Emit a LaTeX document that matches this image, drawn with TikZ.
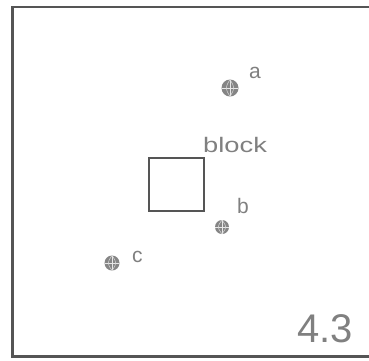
\documentclass[tikz,border=0pt]{standalone}
\usepackage{fontspec}
\setmainfont{Liberation Sans}
\definecolor{frm}{HTML}{555555}
\definecolor{txt}{HTML}{808080}
\definecolor{glb}{HTML}{858585}
\begin{document}
\begin{tikzpicture}[x=1pt,y=1pt,
  lbl/.style={anchor=base west,inner sep=0pt,text=txt,font=\fontsize{21}{21}\selectfont},
  globe/.style={circle,fill=glb,inner sep=0pt,
    path picture={
      \draw[white!80!glb,line width=0.7pt] (path picture bounding box.north) -- (path picture bounding box.south);
      \draw[white!80!glb,line width=0.7pt] (path picture bounding box.west) -- (path picture bounding box.east);
      \draw[white!70!glb,line width=0.5pt] (path picture bounding box.north) .. controls ([xshift=-5pt]path picture bounding box.center) .. (path picture bounding box.south);
      \draw[white!70!glb,line width=0.5pt] (path picture bounding box.north) .. controls ([xshift=5pt]path picture bounding box.center) .. (path picture bounding box.south);
    }}]
\useasboundingbox (0,0) rectangle (369,-360);
\fill[white] (0,0) rectangle (369,-360);
\draw[frm,line width=2.5pt] (380,-7) -- (12.5,-7) -- (12.5,-356.5) -- (380,-356.5);
\node[draw=frm,line width=1.6pt,minimum width=55pt,minimum height=53pt,inner sep=0pt] (blk) at (176.5,-184.5) {};
\node[lbl] (blktxt) at (203,-152) {\scalebox{1.3}[1]{block}};
\node[globe,minimum size=17pt] (a) at (230,-88) {};
\node[lbl] (alab) at (249,-78) {a};
\node[globe,minimum size=14pt] (b) at (222,-227) {};
\node[lbl] (blab) at (237,-213) {b};
\node[globe,minimum size=15pt] (c) at (112,-263) {};
\node[lbl] (clab) at (132,-262) {c};
\node[lbl,font=\fontsize{40}{40}\selectfont] (num) at (297,-342) {4.3};
\end{tikzpicture}
\end{document}
